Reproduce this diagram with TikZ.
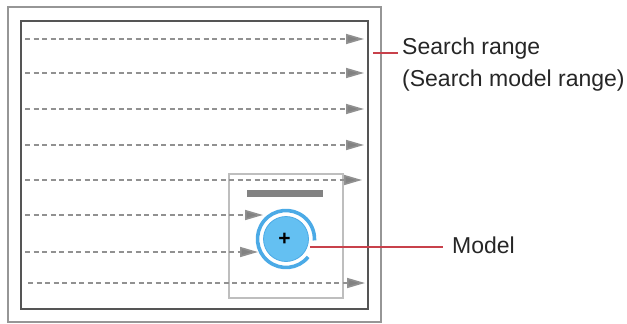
\documentclass[tikz,border=0pt]{standalone}
\usepackage{fontspec}
\setmainfont{Liberation Sans}
\usetikzlibrary{arrows.meta,positioning,calc}
\definecolor{framegray}{RGB}{150,150,150}
\definecolor{innergray}{RGB}{85,85,85}
\definecolor{scangray}{RGB}{145,145,145}
\definecolor{headgray}{RGB}{130,130,130}
\definecolor{boxgray}{RGB}{190,190,190}
\definecolor{bargray}{RGB}{130,130,130}
\definecolor{ringblue}{RGB}{75,170,230}
\definecolor{discblue}{RGB}{100,192,242}
\definecolor{leadred}{RGB}{200,65,75}

\begin{document}
\begin{tikzpicture}[x=1pt,y=-1pt,>={Triangle[length=18pt,width=10pt,fill=headgray]}]
  \tikzstyle{scan}=[draw=scangray,line width=1.6pt,dash pattern=on 5pt off 3.5pt,->]
  \tikzstyle{leader}=[draw=leadred,line width=2.4pt]
  \tikzstyle{label}=[anchor=base west,inner sep=0pt,text=black!85,font=\fontsize{23}{28}\selectfont]
  \useasboundingbox (0,0) rectangle (627,324);
  % frames
  \draw[framegray,line width=2.6pt] (8,7) rectangle (381,322);
  \draw[innergray,line width=2.2pt] (21,21) rectangle (368,309);
  % model box
  \draw[boxgray,line width=2pt] (229,174) rectangle (343,298);
  \fill[bargray] (247,190) rectangle (323,197);
  % scan lines
  \foreach \y/\xa/\xb in {39/25/364,73/25/364,109/25/364,145/25/364,180/25/362,215/25/263,252/25/258,283/28/365}
    \draw[scan] (\xa,\y) -- (\xb,\y);
  % model mark
  \coordinate (ctr) at (286,239);
  \draw[ringblue,line width=3.6pt] (ctr) ++(39:28.5) arc[start angle=39,end angle=363,radius=28.5];
  \node[circle,fill=discblue,draw=ringblue,line width=0.8pt,minimum size=45pt,inner sep=0pt] (disc) at (ctr) {};
  \node[inner sep=0pt,font=\bfseries\fontsize{21}{21}\selectfont] (plus) at ([xshift=-1.5pt]ctr) {+};
  % labels
  \node[label] (srange) at (402,54) {Search range};
  \node[label] (smrange) at (402,86) {(Search model range)};
  \node[label] (model) at (452,253) {Model};
  \coordinate (spin) at (373,53);
  \coordinate (mpin) at ($(ctr)+(18:25)$);
  \draw[leader] (spin) -- ([xshift=-4pt]srange.west |- spin);
  \draw[leader] (mpin) -- ([xshift=-9pt]model.west |- mpin);
\end{tikzpicture}
\end{document}
